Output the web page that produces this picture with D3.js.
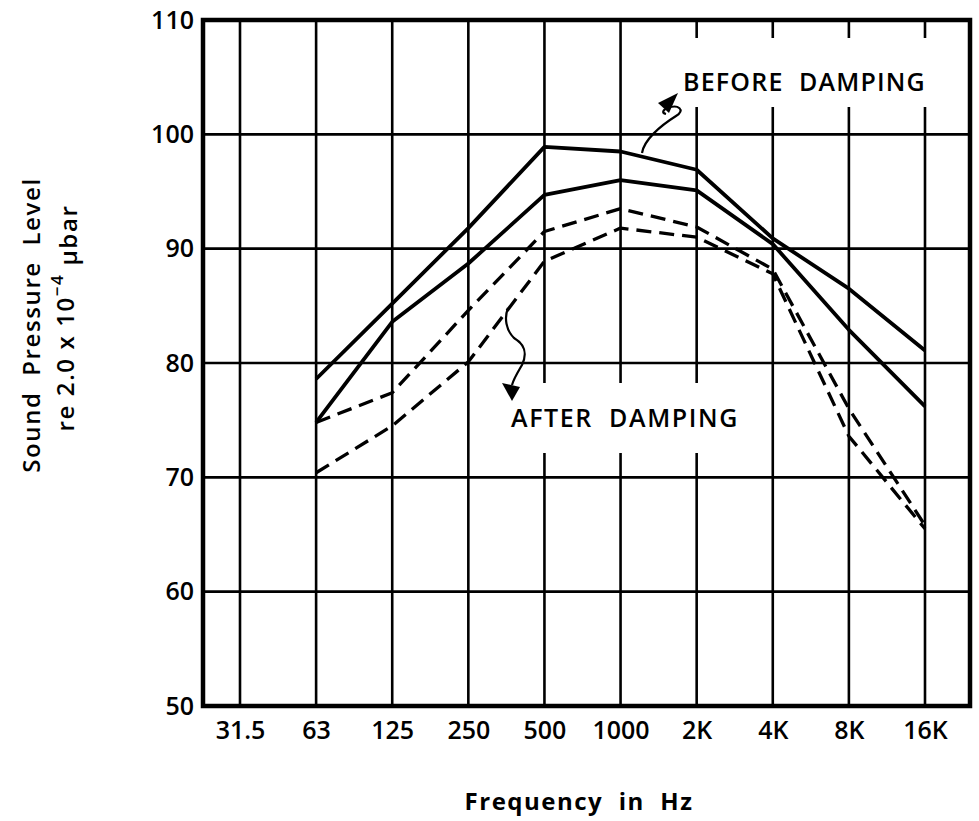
<!DOCTYPE html>
<html>
<head>
<meta charset="utf-8">
<script src="https://cdn.jsdelivr.net/npm/d3@7"></script>
<style>
  body { margin: 0; background: #fff; }
  svg { display: block; }
  text { font-family: "Open Sans", "DejaVu Sans", sans-serif; fill: #000; }
</style>
</head>
<body>
<script>
// octave band centres, as printed under the axis
const freqLabels = ["31.5", "63", "125", "250", "500", "1000", "2K", "4K", "8K", "16K"];
const levelTicks = [50, 60, 70, 80, 90, 100, 110];

// sound pressure level (dB), null = no reading
const beforeUpper = [null, 78.6, 85.2, 91.8, 98.9, 98.5, 96.9, 90.9, 86.5, 81.1];
const beforeLower = [null, 74.8, 83.6, 88.7, 94.7, 96.0, 95.1, 90.4, 82.9, 76.2];
const afterUpper  = [null, 74.8, 77.4, 84.6, 91.5, 93.5, 91.9, 88.2, 76.0, 65.8];
const afterLower  = [null, 70.4, 74.5, 80.1, 88.9, 91.8, 91.0, 87.8, 73.6, 65.5];

const W = 979, H = 821;
const frame = { left: 203, right: 970, top: 20, bottom: 706 };
const FONT = "Open Sans, DejaVu Sans, sans-serif";

const svg = d3.select("body").append("svg")
    .attr("width", W)
    .attr("height", H);

const x = d3.scalePoint()
    .domain(freqLabels)
    .range([240, 925]);

const y = d3.scaleLinear()
    .domain([50, 110])
    .range([frame.bottom, frame.top]);

// grid
const grid = svg.append("g").attr("stroke", "#000").attr("stroke-width", 2.6);

grid.selectAll("line.v")
    .data(freqLabels)
    .enter().append("line")
    .attr("class", "v")
    .attr("x1", d => x(d)).attr("x2", d => x(d))
    .attr("y1", frame.top).attr("y2", frame.bottom);

grid.selectAll("line.h")
    .data(levelTicks.slice(1, -1))
    .enter().append("line")
    .attr("class", "h")
    .attr("x1", frame.left).attr("x2", frame.right)
    .attr("y1", d => y(d)).attr("y2", d => y(d));

// white patches so the lettering sits on clear paper
svg.append("rect")
    .attr("x", 676).attr("y", 38).attr("width", 284).attr("height", 69)
    .attr("fill", "#fff");
svg.append("rect")
    .attr("x", 500).attr("y", 383).attr("width", 268).attr("height", 70)
    .attr("fill", "#fff");

// outer frame
svg.append("rect")
    .attr("x", frame.left).attr("y", frame.top)
    .attr("width", frame.right - frame.left)
    .attr("height", frame.bottom - frame.top)
    .attr("fill", "none")
    .attr("stroke", "#000")
    .attr("stroke-width", 4.5);

// axes: labels only, the frame and grid do the rest
const yAxis = svg.append("g")
    .attr("transform", `translate(${frame.left},0)`)
    .call(d3.axisLeft(y).tickValues(levelTicks).tickSize(0).tickPadding(9));
const xAxis = svg.append("g")
    .attr("transform", `translate(0,${frame.bottom})`)
    .call(d3.axisBottom(x).tickSize(0).tickPadding(15));

[yAxis, xAxis].forEach(ax => {
    ax.select(".domain").remove();
    ax.selectAll("text")
        .attr("font-family", FONT)
        .attr("font-size", 25)
        .attr("font-weight", 600)
        .attr("fill", "#000");
});

// curves
const line = d3.line()
    .defined(d => d[1] !== null)
    .x(d => x(d[0]))
    .y(d => y(d[1]));

const series = [
    { values: beforeUpper, dash: null },
    { values: beforeLower, dash: null },
    { values: afterUpper, dash: "15 8" },
    { values: afterLower, dash: "15 8" }
];

svg.append("g").selectAll("path")
    .data(series)
    .enter().append("path")
    .attr("d", s => line(freqLabels.map((f, i) => [f, s.values[i]])))
    .attr("fill", "none")
    .attr("stroke", "#000")
    .attr("stroke-width", s => s.dash ? 3.3 : 3.8)
    .attr("stroke-dasharray", s => s.dash)
    .attr("stroke-linejoin", "round");

// annotations
svg.append("text")
    .attr("x", 683).attr("y", 91)
    .attr("font-size", 25)
    .attr("font-weight", 600)
    .attr("letter-spacing", 1.2)
    .attr("xml:space", "preserve")
    .text("BEFORE  DAMPING");

svg.append("text")
    .attr("x", 511).attr("y", 427)
    .attr("font-size", 25)
    .attr("font-weight", 600)
    .attr("letter-spacing", 1.6)
    .attr("xml:space", "preserve")
    .text("AFTER  DAMPING");

const leader = svg.append("g").attr("stroke", "#000").attr("stroke-width", 2.2).attr("fill", "none");

leader.append("path")
    .attr("d", "M642,153 C644,140 660,126 676,116 C686,110 678,104 668,108 C662,110 662,113 666,114");
svg.append("path")
    .attr("d", "M678,93 L658,103 L669,113 Z")
    .attr("fill", "#000");

leader.append("path")
    .attr("d", "M508,308 C504,318 506,330 514,338 C524,344 528,352 522,365 C518,372 514,378 512,385");
svg.append("path")
    .attr("d", "M502,383 L520,387 L512,401 Z")
    .attr("fill", "#000");

// axis titles
svg.append("text")
    .attr("x", 579).attr("y", 810)
    .attr("text-anchor", "middle")
    .attr("font-size", 24)
    .attr("font-weight", "bold")
    .attr("letter-spacing", 1.5)
    .attr("xml:space", "preserve")
    .text("Frequency  in  Hz");

svg.append("text")
    .attr("transform", "translate(40,325) rotate(-90)")
    .attr("text-anchor", "middle")
    .attr("font-size", 24)
    .attr("font-weight", 600)
    .attr("letter-spacing", 1.6)
    .attr("xml:space", "preserve")
    .text("Sound  Pressure  Level");

const unit = svg.append("text")
    .attr("transform", "translate(74,318) rotate(-90)")
    .attr("text-anchor", "middle")
    .attr("font-size", 24)
    .attr("font-weight", 600)
    .attr("letter-spacing", 1.6)
    .attr("xml:space", "preserve");
unit.append("tspan").text("re 2.0 x 10");
unit.append("tspan").attr("dy", -11).attr("font-size", 17).text("−4");
unit.append("tspan").attr("dy", 14).attr("dx", 8).text("μbar");
</script>
</body>
</html>
